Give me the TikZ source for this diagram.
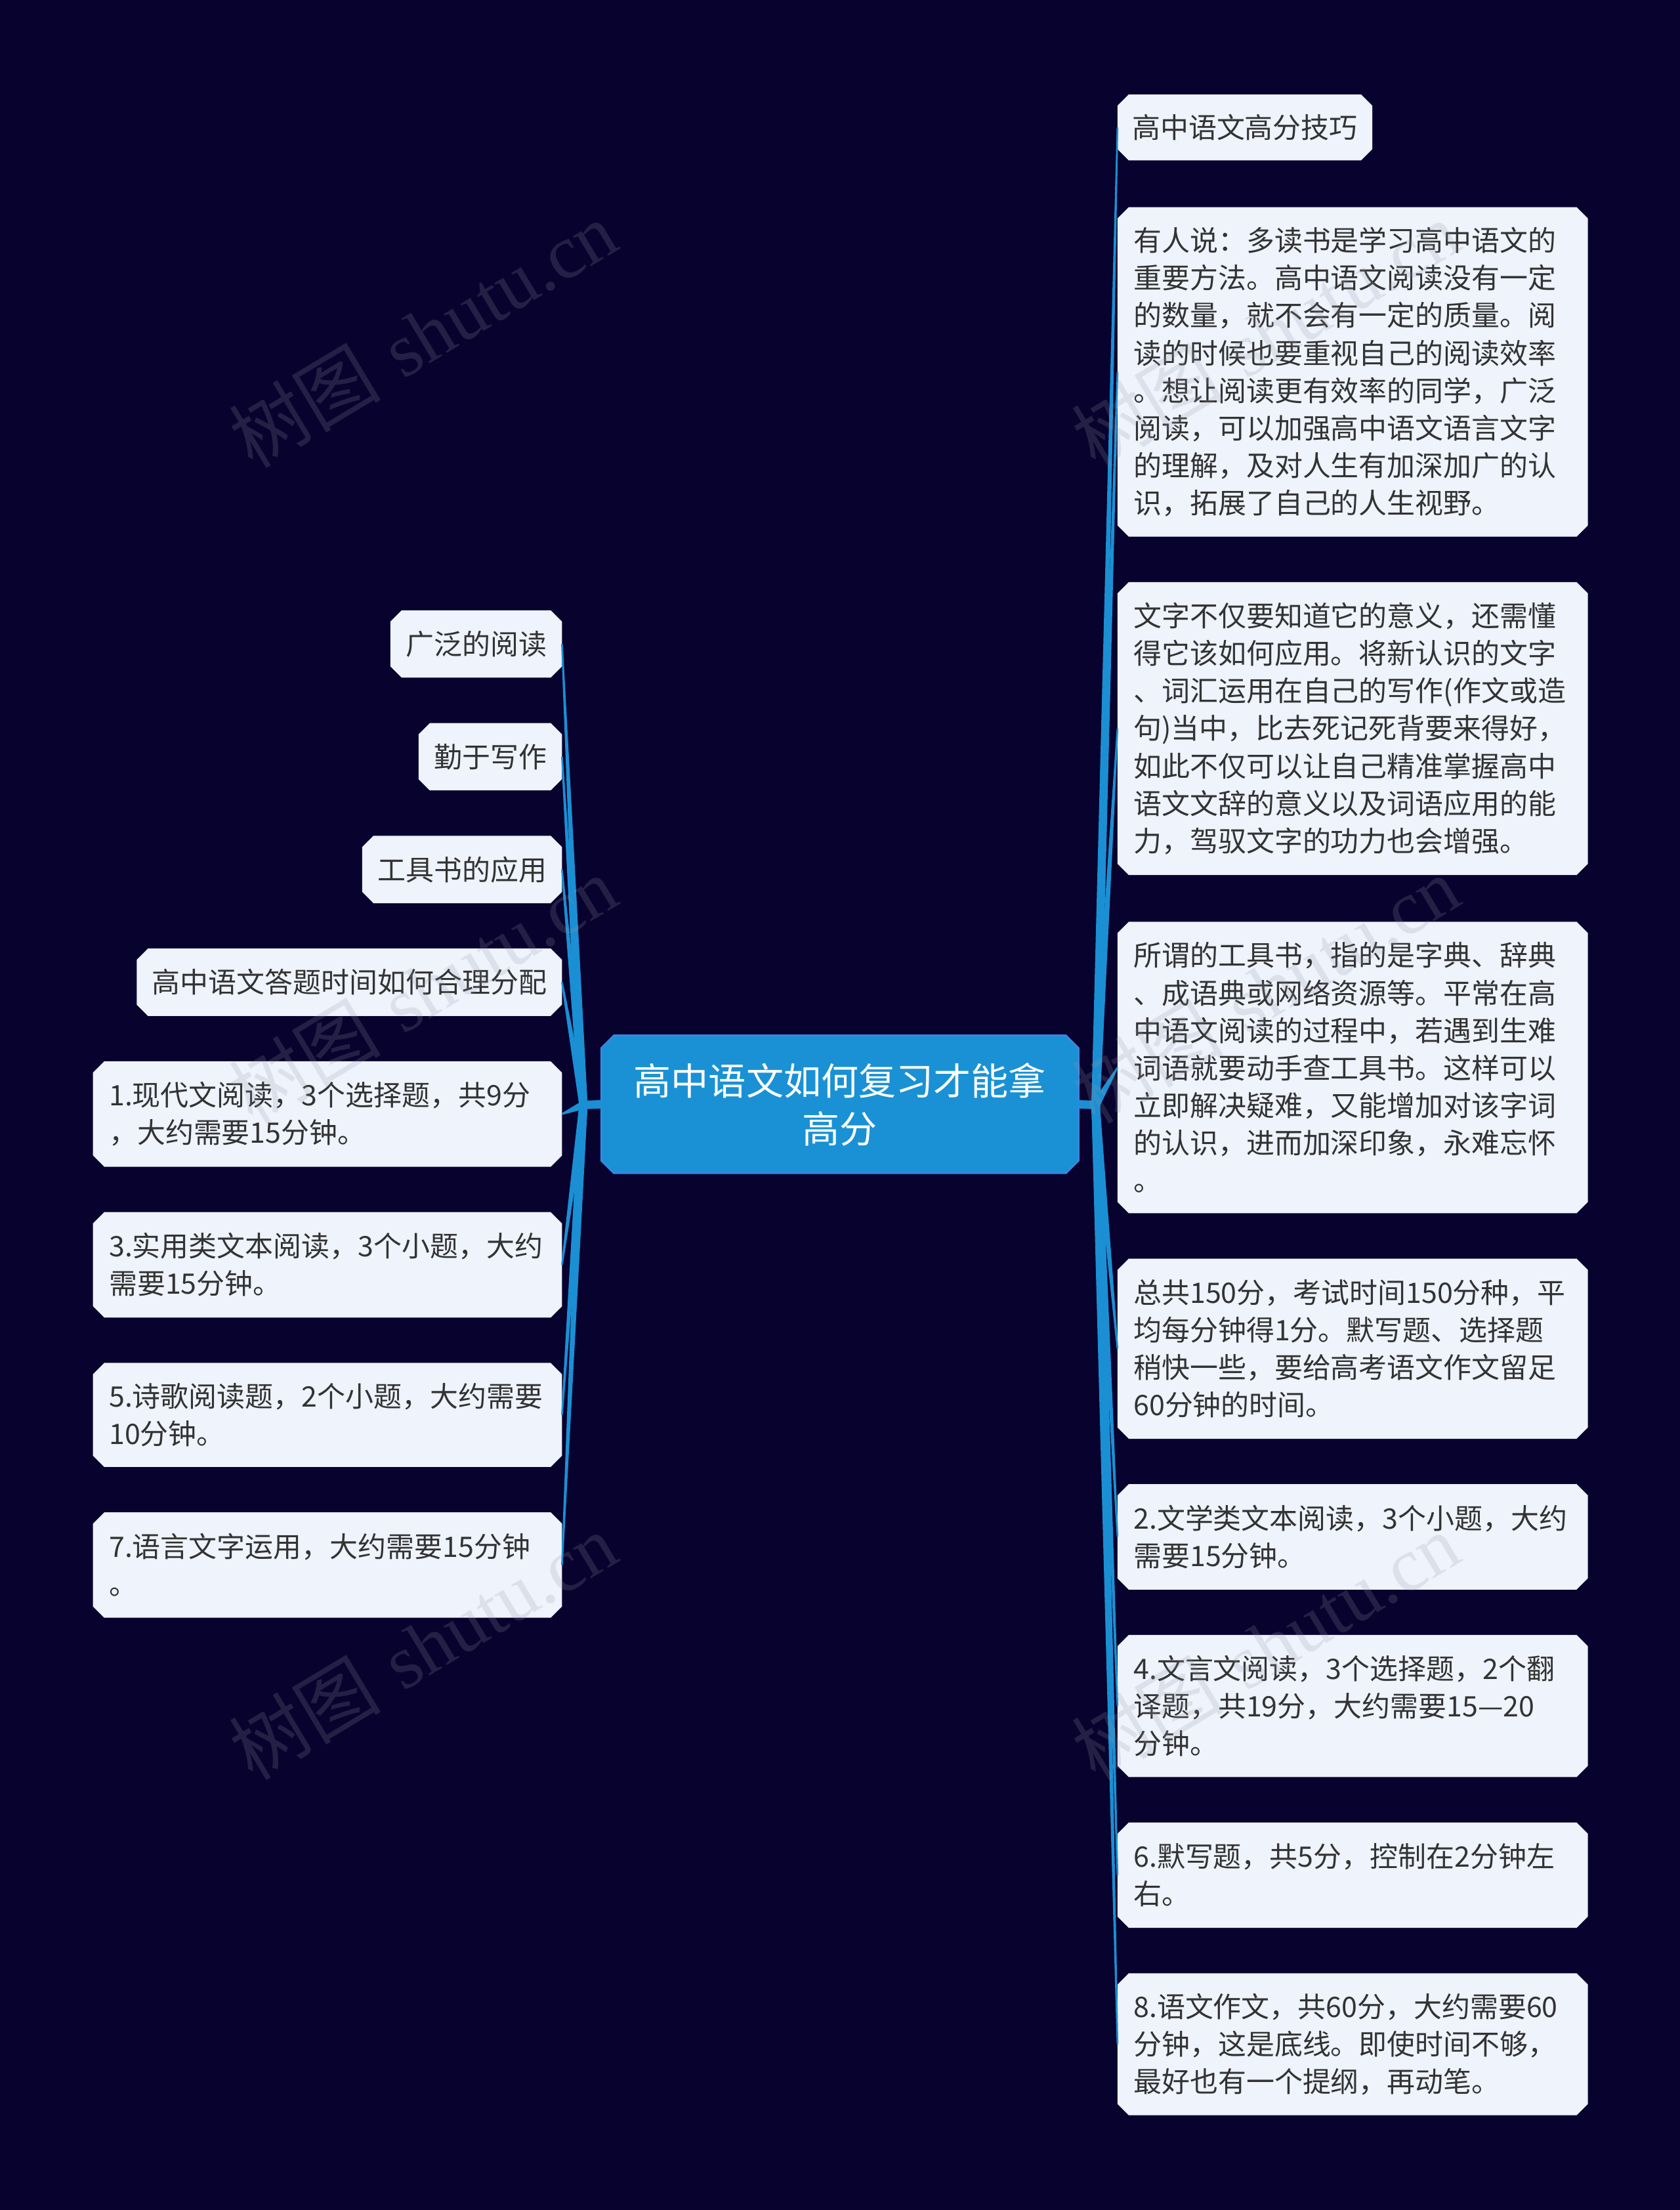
\documentclass[tikz,border=0pt]{standalone}
\usepackage{fontspec}
\newfontfamily\cjk{Noto Sans CJK SC}
\newfontfamily\wmfont{Liberation Serif}
\usetikzlibrary{calc}
\pgfdeclarelayer{back}
\pgfdeclarelayer{bg}
\pgfdeclarelayer{front}
\pgfsetlayers{back,bg,main,front}

\definecolor{bgc}{RGB}{8,3,46}
\definecolor{leaffill}{RGB}{238,243,252}
\definecolor{leaftext}{RGB}{51,51,51}
\definecolor{hubfill}{RGB}{26,145,212}
\definecolor{hubline}{RGB}{58,134,230}
\definecolor{conncol}{RGB}{27,143,211}
\definecolor{wmcol}{RGB}{150,150,165}

\tikzset{
  leaf/.style={anchor=north west, inner xsep=5.5pt, inner ysep=0pt,
    font=\cjk\fontsize{10}{13.3}\selectfont, text=leaftext, align=left},
  leafone/.style={anchor=north west, inner sep=0pt,
    font=\cjk\fontsize{10}{13.3}\selectfont, text=leaftext, align=center,
    minimum height=23.5pt},
  hub/.style={inner sep=0pt, font=\cjk\fontsize{13.3}{17}\selectfont,
    text=white, align=center},
  wm/.style={text=wmcol, opacity=0.2, font=\fontsize{27}{30}\selectfont, inner sep=0pt},
}

\newcommand\chfill[3]{%
  \fill[#2] ([xshift=#3]#1.north west) -- ([xshift=-#3]#1.north east)
    -- ([yshift=-#3]#1.north east) -- ([yshift=#3]#1.south east)
    -- ([xshift=-#3]#1.south east) -- ([xshift=#3]#1.south west)
    -- ([yshift=#3]#1.south west) -- ([yshift=-#3]#1.north west) -- cycle;}

\newcommand\taper[2]{%
  \fill[conncol] ($(#1)!1.5pt!90:(#2)$) -- ($(#2)!0.3pt!-90:(#1)$)
    -- ($(#2)!0.3pt!90:(#1)$) -- ($(#1)!1.5pt!-90:(#2)$) -- cycle;}

\begin{document}
\begin{tikzpicture}[x=0.5pt,y=-0.5pt]
\begin{pgfonlayer}{back}
\fill[bgc] (0,0) rectangle (1192,1568);
\end{pgfonlayer}
\useasboundingbox (0,0) rectangle (1192,1568);

% central topic
\node[hub, minimum width=169pt, minimum height=48.5pt] (c) at (596,783.5)
  {高中语文如何复习才能拿\\高分};

% right side
\node[leafone, minimum width=90pt, minimum height=23pt] (r0) at (793,67) {高中语文高分技巧};
\node[leaf, text width=155.5pt, minimum height=116.5pt] (r1) at (793,147)
  {有人说：多读书是学习高中语文的\\重要方法。高中语文阅读没有一定\\的数量，就不会有一定的质量。阅\\读的时候也要重视自己的阅读效率\\。想让阅读更有效率的同学，广泛\\阅读，可以加强高中语文语言文字\\的理解，及对人生有加深加广的认\\识，拓展了自己的人生视野。};
\node[leaf, text width=155.5pt, minimum height=103.5pt] (r2) at (793,413)
  {文字不仅要知道它的意义，还需懂\\得它该如何应用。将新认识的文字\\、词汇运用在自己的写作(作文或造\\句)当中，比去死记死背要来得好，\\如此不仅可以让自己精准掌握高中\\语文文辞的意义以及词语应用的能\\力，驾驭文字的功力也会增强。};
\node[leaf, text width=155.5pt, minimum height=103pt] (r3) at (793,654)
  {所谓的工具书，指的是字典、辞典\\、成语典或网络资源等。平常在高\\中语文阅读的过程中，若遇到生难\\词语就要动手查工具书。这样可以\\立即解决疑难，又能增加对该字词\\的认识，进而加深印象，永难忘怀\\。};
\node[leaf, text width=155.5pt, minimum height=63.5pt] (r4) at (793,893)
  {总共150分，考试时间150分种，平\\均每分钟得1分。默写题、选择题\\稍快一些，要给高考语文作文留足\\60分钟的时间。};
\node[leaf, text width=155.5pt, minimum height=37pt] (r5) at (793,1053)
  {2.文学类文本阅读，3个小题，大约\\需要15分钟。};
\node[leaf, text width=155.5pt, minimum height=50pt] (r6) at (793,1160)
  {4.文言文阅读，3个选择题，2个翻\\译题，共19分，大约需要15—20\\分钟。};
\node[leaf, text width=155.5pt, minimum height=37pt] (r7) at (793,1293)
  {6.默写题，共5分，控制在2分钟左\\右。};
\node[leaf, text width=155.5pt, minimum height=50pt] (r8) at (793,1400)
  {8.语文作文，共60分，大约需要60\\分钟，这是底线。即使时间不够，\\最好也有一个提纲，再动笔。};

% left side
\node[leafone, minimum width=60.5pt] (l0) at (277,433) {广泛的阅读};
\node[leafone, minimum width=50.5pt] (l1) at (297,513) {勤于写作};
\node[leafone, minimum width=70.5pt] (l2) at (257,593) {工具书的应用};
\node[leafone, minimum width=150.5pt] (l3) at (97,673) {高中语文答题时间如何合理分配};
\node[leaf, text width=155pt, minimum height=37pt] (l4) at (66,753)
  {1.现代文阅读，3个选择题，共9分\\，大约需要15分钟。};
\node[leaf, text width=155pt, minimum height=37pt] (l5) at (66,860)
  {3.实用类文本阅读，3个小题，大约\\需要15分钟。};
\node[leaf, text width=155pt, minimum height=36.5pt] (l6) at (66,967)
  {5.诗歌阅读题，2个小题，大约需要\\10分钟。};
\node[leaf, text width=155pt, minimum height=37pt] (l7) at (66,1073)
  {7.语言文字运用，大约需要15分钟\\。};

\coordinate (lroot) at (414,784);
\coordinate (rroot) at (777.5,784);

\begin{pgfonlayer}{bg}
  \foreach \n in {r0,r1,r2,r3,r4,r5,r6,r7,r8,l0,l1,l2,l3,l4,l5,l6,l7}
    {\chfill{\n}{leaffill}{4pt}}
  \chfill{c}{hubfill}{4.5pt}
  \draw[hubline, line width=0.6pt]
    ([xshift=4.5pt]c.north west) -- ([xshift=-4.5pt]c.north east)
    -- ([yshift=-4.5pt]c.north east) -- ([yshift=4.5pt]c.south east)
    -- ([xshift=-4.5pt]c.south east) -- ([xshift=4.5pt]c.south west)
    -- ([yshift=4.5pt]c.south west) -- ([yshift=-4.5pt]c.north west) -- cycle;
  % stubs
  \draw[conncol, line width=3pt] (c.west) -- ([xshift=-0.5pt]lroot);
  \draw[conncol, line width=3pt] (c.east) -- ([xshift=0.5pt]rroot);
  % branches
  \foreach \n in {r0,r1,r2,r3,r4,r5,r6,r7,r8} {\taper{rroot}{\n.west}}
  \foreach \n in {l0,l1,l2,l3,l4,l5,l6,l7} {\taper{lroot}{\n.east}}
\end{pgfonlayer}

% watermarks
\begin{pgfonlayer}{front}
  \foreach \wx/\wy [count=\i] in {300/237, 898/237, 300/702, 898/702, 300/1168, 898/1168}
    {\node[wm, rotate=31] (wm\i) at (\wx,\wy) {{\cjk 树图} {\wmfont shutu.cn}};}
\end{pgfonlayer}
\end{tikzpicture}
\end{document}
